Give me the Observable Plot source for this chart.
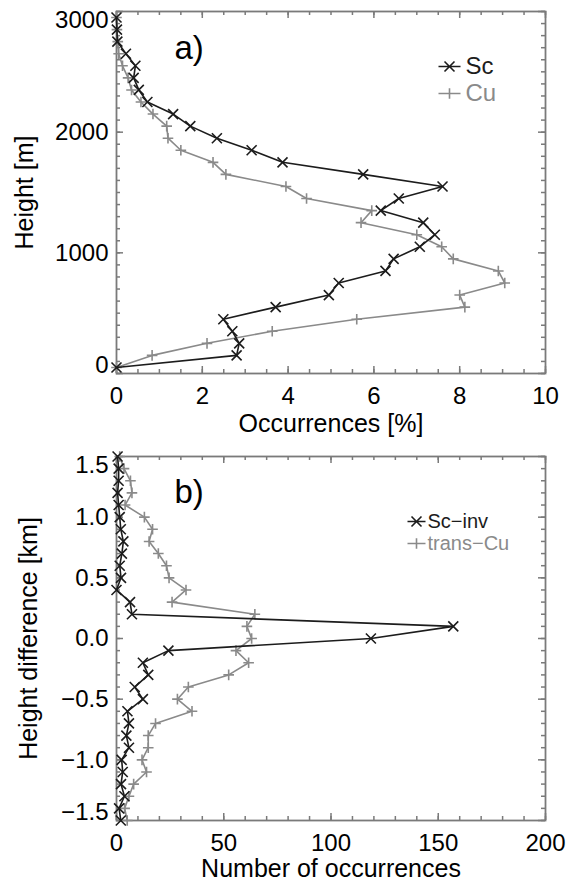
<!DOCTYPE html>
<html><head><meta charset="utf-8">
<script src="https://cdn.jsdelivr.net/npm/d3@7"></script>
<script src="https://cdn.jsdelivr.net/npm/@observablehq/plot@0.6"></script>
<style>
body{margin:0;background:#fff;}
#chart{width:569px;}
#chart svg{display:block;}
</style></head><body><div id="chart"></div>
<script>
// ---- Panel a data: height bins (m), occurrences (%) ----
const heightsA = [50,150,250,350,450,550,650,750,850,950,1050,1150,1250,1350,1450,1550,1650,1750,1850,1950,2050,2150,2250,2350,2450,2550,2650,2750,2850,2950];
const scValues = [0.0,2.80,2.86,2.70,2.49,3.71,4.95,5.18,6.27,6.46,7.07,7.42,7.15,6.16,6.58,7.60,5.75,3.87,3.15,2.34,1.72,1.32,0.72,0.52,0.40,0.44,0.22,0.02,0.01,0.0];
const cuValues = [0.0,0.83,2.11,3.63,5.60,8.12,8.00,9.05,8.90,7.85,7.58,7.00,5.70,5.95,4.43,3.95,2.55,2.25,1.50,1.20,1.17,0.85,0.57,0.35,0.27,0.14,0.05,0.03,0.01,0.0];
// ---- Panel b data: height difference (km), number of occurrences ----
const heightsB = [-1.5,-1.4,-1.3,-1.2,-1.1,-1.0,-0.9,-0.8,-0.7,-0.6,-0.5,-0.4,-0.3,-0.2,-0.1,0.0,0.1,0.2,0.3,0.4,0.5,0.6,0.7,0.8,0.9,1.0,1.1,1.2,1.3,1.4,1.5];
const scInvValues = [2,1.2,3.7,2.1,2.9,2.4,5.8,4.6,5.8,5.1,12.3,8.5,14.8,12.3,24.2,118.6,157,7.2,6.3,0,2.1,1.5,2.5,3.2,2,1.5,1,0.5,1,1,0.5];
const transCuValues = [5,3.8,5.8,8,14,11.9,14.8,14.8,18.2,35.2,28.4,33.5,52.3,61.6,55.7,63,60.8,64.5,25.9,32.4,24.5,23.3,19.5,15.2,16.8,13,4,7.2,6.5,3.5,1.5];
// ---- ticks ----
const xTicksA = [0,2,4,6,8,10];
const yTicksA = [0,1000,2000,3000];
const xTicksB = [0,50,100,150,200];
const yTicksB = [-1.5,-1.0,-0.5,0.0,0.5,1.0,1.5];
const seriesNamesA = ["Sc","Cu"];
const seriesNamesB = ["Sc\u2212inv","trans\u2212Cu"];

const BLACK = "#1c1c1c", GRAY = "#8a8a8a", FRAME = "#7a7a7a";
const FONT = "'Liberation Sans', Arial, Helvetica, sans-serif";

const timesSym = {draw(c){ const h=5; c.moveTo(-h,-h); c.lineTo(h,h); c.moveTo(-h,h); c.lineTo(h,-h); }};
const plusSym  = {draw(c){ const h=5.3; c.moveTo(-h,0); c.lineTo(h,0); c.moveTo(0,-h); c.lineTo(0,h); }};
const legendSym = (half, base) => ({draw(c){ c.moveTo(-half,0); c.lineTo(half,0); base.draw(c); }});

function panel(o){
  const W = 569, fh = o.height - o.mt - o.mb, fw = W - o.ml - o.mr;
  const data1 = o.heights.map((h,i)=>({h, v:o.s1[i]}));
  const data2 = o.heights.map((h,i)=>({h, v:o.s2[i]}));
  const [y0, y1] = o.yDomain;
  const midY = o.yTicks.filter(d => d !== y0 && d !== y1);
  const tick = {stroke: FRAME, strokeWidth: 1.5};
  const txt = {lineAnchor: "middle", fill: "black"};
  const marks = [
    // inward ticks on all four sides
    Plot.tickX(o.xTicks, {x: d=>d, ...tick, insetTop: fh-7}),
    Plot.tickX(o.xTicks, {x: d=>d, ...tick, insetBottom: fh-7}),
    Plot.tickX(o.xMinor, {x: d=>d, ...tick, insetTop: fh-4}),
    Plot.tickX(o.xMinor, {x: d=>d, ...tick, insetBottom: fh-4}),
    Plot.tickY(o.yTicks, {y: d=>d, ...tick, insetRight: fw-7}),
    Plot.tickY(o.yTicks, {y: d=>d, ...tick, insetLeft: fw-7}),
    Plot.tickY(o.yMinor, {y: d=>d, ...tick, insetRight: fw-4}),
    Plot.tickY(o.yMinor, {y: d=>d, ...tick, insetLeft: fw-4}),
    Plot.frame({stroke: FRAME, strokeWidth: 1.8}),
    // tick labels
    Plot.axisX(o.xTicks, {anchor:"bottom", tickSize:0, tickPadding:13, fontSize:24, label:null, tickFormat: o.xFmt}),
    Plot.axisY(midY, {anchor:"left", tickSize:0, tickPadding:8, fontSize:24, label:null, tickFormat: o.yFmt}),
    Plot.axisY([y1], {anchor:"left", tickSize:0, tickPadding:8, fontSize:24, label:null, tickFormat: o.yFmt, dy: 9}),
    Plot.axisY([y0], {anchor:"left", tickSize:0, tickPadding:8, fontSize:24, label:null, tickFormat: o.yFmt, dy: -8}),
    // titles
    Plot.text([o.xLabel], {frameAnchor:"bottom", dy:o.xLabelDy, fontSize:25, textAnchor:"middle", ...txt}),
    Plot.text([o.yLabel], {frameAnchor:"left", dx:o.yLabelDx, rotate:-90, fontSize:25, textAnchor:"middle", ...txt}),
    Plot.text([o.tag], {frameAnchor:"top-left", dx:58, dy:o.tagDy, fontSize:33, textAnchor:"start", ...txt}),
    // data
    Plot.line(data2, {x:"v", y:"h", stroke:GRAY, strokeWidth:1.6}),
    Plot.dot(data2, {x:"v", y:"h", symbol:plusSym, stroke:GRAY, fill:"none", strokeWidth:1.6}),
    Plot.line(data1, {x:"v", y:"h", stroke:BLACK, strokeWidth:1.6}),
    Plot.dot(data1, {x:"v", y:"h", symbol:timesSym, stroke:BLACK, fill:"none", strokeWidth:1.6}),
    // legend
    Plot.dot([o.names[0]], {frameAnchor:"top-left", dx:o.lg.symDx, dy:o.lg.dy1, symbol:legendSym(o.lg.half, timesSym), stroke:BLACK, fill:"none", strokeWidth:1.6}),
    Plot.dot([o.names[1]], {frameAnchor:"top-left", dx:o.lg.symDx, dy:o.lg.dy2, symbol:legendSym(o.lg.half, plusSym), stroke:GRAY, fill:"none", strokeWidth:1.6}),
    Plot.text([o.names[0]], {frameAnchor:"top-left", dx:o.lg.textDx, dy:o.lg.dy1, textAnchor:"start", fontSize:o.lg.fs, ...txt, fill:BLACK}),
    Plot.text([o.names[1]], {frameAnchor:"top-left", dx:o.lg.textDx, dy:o.lg.dy2, textAnchor:"start", fontSize:o.lg.fs, ...txt, fill:GRAY})
  ];
  return Plot.plot({
    width: W, height: o.height,
    marginLeft: o.ml, marginRight: o.mr, marginTop: o.mt, marginBottom: o.mb,
    style: {fontFamily: FONT, fontSize: "24px", color: "black", background: "white", overflow: "visible"},
    x: {type:"linear", domain: o.xDomain},
    y: {type:"linear", domain: o.yDomain},
    marks
  });
}

const chart = document.getElementById("chart");
chart.append(panel({
  height: 440, ml: 116, mr: 24, mt: 11, mb: 67,
  xDomain: [0,10], yDomain: [0,3000],
  xTicks: xTicksA, xMinor: d3.range(0, 10.01, 0.5),
  yTicks: yTicksA, yMinor: d3.range(0, 3001, 100),
  xFmt: d3.format("d"), yFmt: d3.format("d"),
  heights: heightsA, s1: scValues, s2: cuValues, names: seriesNamesA,
  xLabel: "Occurrences [%]", xLabelDy: 50, yLabel: "Height [m]", yLabelDx: -92,
  tag: "a)", tagDy: 37,
  lg: {symDx: 333, textDx: 349, dy1: 55, dy2: 82, half: 11, fs: 24}
}));
chart.append(panel({
  height: 445, ml: 116, mr: 24, mt: 16, mb: 65,
  xDomain: [0,200], yDomain: [-1.5,1.5],
  xTicks: xTicksB, xMinor: d3.range(0, 201, 10),
  yTicks: yTicksB, yMinor: d3.range(-15, 16, 1).map(d => d/10),
  xFmt: d3.format("d"), yFmt: d3.format(".1f"),
  heights: heightsB, s1: scInvValues, s2: transCuValues, names: seriesNamesB,
  xLabel: "Number of occurrences", xLabelDy: 48, yLabel: "Height difference [km]", yLabelDx: -88,
  tag: "b)", tagDy: 36,
  lg: {symDx: 300, textDx: 311, dy1: 65, dy2: 87, half: 9, fs: 20}
}));
</script></body></html>
